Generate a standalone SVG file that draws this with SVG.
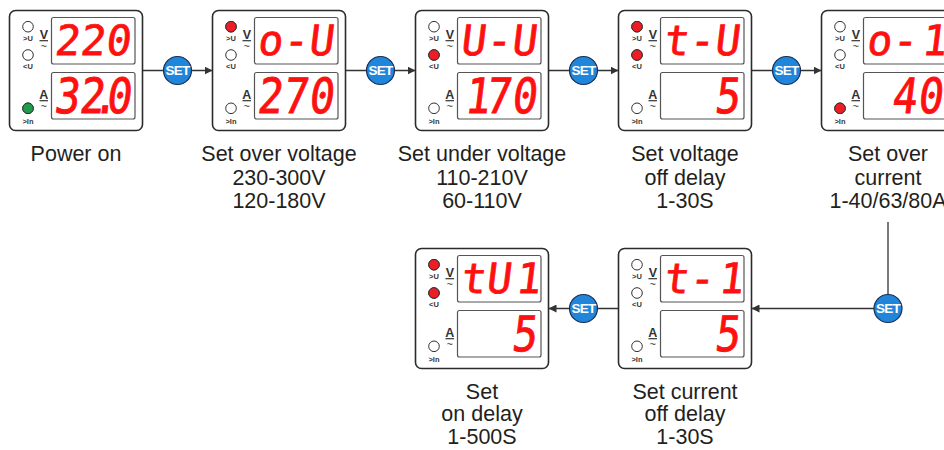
<svg xmlns="http://www.w3.org/2000/svg" xmlns:xlink="http://www.w3.org/1999/xlink" width="944" height="450" viewBox="0 0 944 450">
<style>
.box{fill:#fff;stroke:#2b2b2b;stroke-width:1.6}
.disp{fill:#fff;stroke:#555;stroke-width:1.2}
.led{fill:#fff;stroke:#333;stroke-width:1}
.red{fill:#ee1c24}
.grn{fill:#1f9c4a}
.ll{font-family:"Liberation Sans",Arial,sans-serif;font-size:7.5px;font-weight:bold;fill:#333;text-anchor:middle}
.va{font-family:"Liberation Sans",Arial,sans-serif;font-size:12.5px;font-weight:bold;fill:#333;text-anchor:middle}
.tl{font-family:"Liberation Sans",Arial,sans-serif;font-size:11px;fill:#333;text-anchor:middle}
.seg{font-family:"DejaVu Sans Mono",monospace;font-size:41.5px;fill:#ff1010;stroke:#ff1010;stroke-width:0.8;text-anchor:middle}
.lab{font-family:"Liberation Sans",Arial,sans-serif;font-size:21.5px;fill:#231f20;text-anchor:middle}
.ul{stroke:#333;stroke-width:1.2}
.con{fill:none;stroke:#333;stroke-width:1.3}
.set circle{fill:#1f86dc;stroke:#1a2d55;stroke-width:1.2}
.set text{font-family:"Liberation Sans",Arial,sans-serif;font-size:13.5px;font-weight:bold;fill:#fff;text-anchor:middle;letter-spacing:-0.7px}
</style>
<defs>
<marker id="arr" markerWidth="8" markerHeight="8" refX="8" refY="4" orient="auto" markerUnits="userSpaceOnUse">
<path d="M0,0 L8,4 L0,8 z" fill="#333"/>
</marker>
<g id="frame">
<rect class="box" x="0" y="0" width="133" height="120" rx="6"/>
<rect class="disp" x="42" y="7" width="83.5" height="46.5" rx="2"/>
<rect class="disp" x="42" y="62" width="83.5" height="46.5" rx="2"/>
<circle class="led" cx="18.5" cy="16.2" r="5.3"/>
<circle class="led" cx="18.5" cy="44.5" r="5.3"/>
<circle class="led" cx="18.5" cy="97.8" r="5.3"/>
<line class="ul" x1="30" y1="30.2" x2="38.5" y2="30.2"/>
<line class="ul" x1="30" y1="90.2" x2="38.5" y2="90.2"/>
</g>
</defs>

<g id="connectors">
<path class="con" d="M142.5 70.5 H212.5" marker-end="url(#arr)"/>
<path class="con" d="M345.5 70.5 H415.5" marker-end="url(#arr)"/>
<path class="con" d="M548.5 70.5 H618.5" marker-end="url(#arr)"/>
<path class="con" d="M751.5 70.5 H821.5" marker-end="url(#arr)"/>
<path class="con" d="M888 222 V308.5 H751.5" marker-end="url(#arr)"/>
<path class="con" d="M618.5 308.5 H548.5" marker-end="url(#arr)"/>
</g>

<g id="set1" class="set"><circle cx="177.5" cy="70.5" r="14"/><text x="177.5" y="75.3">SET</text></g>
<g id="set2" class="set"><circle cx="380.5" cy="70.5" r="14"/><text x="380.5" y="75.3">SET</text></g>
<g id="set3" class="set"><circle cx="583.5" cy="70.5" r="14"/><text x="583.5" y="75.3">SET</text></g>
<g id="set4" class="set"><circle cx="786.5" cy="70.5" r="14"/><text x="786.5" y="75.3">SET</text></g>
<g id="set5" class="set"><circle cx="888" cy="308.5" r="14"/><text x="888" y="313.3">SET</text></g>
<g id="set6" class="set"><circle cx="583.5" cy="308.5" r="14"/><text x="583.5" y="313.3">SET</text></g>

<!-- Node 1: Power on -->
<g id="node-power-on">
<g transform="translate(9.5,10.5)">
<use xlink:href="#frame" href="#frame"/>
<circle class="led grn" cx="18.5" cy="97.8" r="5.3"/>
<text class="ll" x="18.5" y="30.5">&gt;U</text><text class="ll" x="18.5" y="58.8">&lt;U</text><text class="ll" x="18.5" y="113.5">&gt;In</text>
<text class="va" x="34.3" y="28.5">V</text><text class="tl" x="34.3" y="39.5">~</text>
<text class="va" x="34.3" y="88.5">A</text><text class="tl" x="34.3" y="99.5">~</text>
<g transform="translate(0,44.5) skewX(-7)"><text class="seg" x="57 82.5 108" y="0">220</text></g>
<g transform="translate(0,102) skewX(-7) scale(1,1.17)"><text class="seg" x="56.5 81.5 95 108.5" y="0">32.0</text></g>
</g>
<text class="lab" x="76" y="161">Power on</text>
</g>

<!-- Node 2 -->
<g id="node-over-voltage">
<g transform="translate(212.5,10.5)">
<use xlink:href="#frame" href="#frame"/>
<circle class="led red" cx="18.5" cy="16.2" r="5.3"/>
<text class="ll" x="18.5" y="30.5">&gt;U</text><text class="ll" x="18.5" y="58.8">&lt;U</text><text class="ll" x="18.5" y="113.5">&gt;In</text>
<text class="va" x="34.3" y="28.5">V</text><text class="tl" x="34.3" y="39.5">~</text>
<text class="va" x="34.3" y="88.5">A</text><text class="tl" x="34.3" y="99.5">~</text>
<g transform="translate(0,44.5) skewX(-7)"><text class="seg" x="57 82.5 108" y="0">o-U</text></g>
<g transform="translate(0,102) skewX(-7) scale(1,1.17)"><text class="seg" x="56.5 82 108" y="0">270</text></g>
</g>
<text class="lab" x="279" y="161">Set over voltage</text>
<text class="lab" x="279" y="184.5">230-300V</text>
<text class="lab" x="279" y="208">120-180V</text>
</g>

<!-- Node 3 -->
<g id="node-under-voltage">
<g transform="translate(415.5,10.5)">
<use xlink:href="#frame" href="#frame"/>
<circle class="led red" cx="18.5" cy="44.5" r="5.3"/>
<text class="ll" x="18.5" y="30.5">&gt;U</text><text class="ll" x="18.5" y="58.8">&lt;U</text><text class="ll" x="18.5" y="113.5">&gt;In</text>
<text class="va" x="34.3" y="28.5">V</text><text class="tl" x="34.3" y="39.5">~</text>
<text class="va" x="34.3" y="88.5">A</text><text class="tl" x="34.3" y="99.5">~</text>
<g transform="translate(0,44.5) skewX(-7)"><text class="seg" x="57 82.5 108" y="0">U-U</text></g>
<g transform="translate(0,102) skewX(-7) scale(1,1.17)"><text class="seg" x="61 82 108" y="0">170</text></g>
</g>
<text class="lab" x="482" y="161">Set under voltage</text>
<text class="lab" x="482" y="184.5">110-210V</text>
<text class="lab" x="482" y="208">60-110V</text>
</g>

<!-- Node 4 -->
<g id="node-voltage-off-delay">
<g transform="translate(618.5,10.5)">
<use xlink:href="#frame" href="#frame"/>
<circle class="led red" cx="18.5" cy="16.2" r="5.3"/>
<circle class="led red" cx="18.5" cy="44.5" r="5.3"/>
<text class="ll" x="18.5" y="30.5">&gt;U</text><text class="ll" x="18.5" y="58.8">&lt;U</text><text class="ll" x="18.5" y="113.5">&gt;In</text>
<text class="va" x="34.3" y="28.5">V</text><text class="tl" x="34.3" y="39.5">~</text>
<text class="va" x="34.3" y="88.5">A</text><text class="tl" x="34.3" y="99.5">~</text>
<g transform="translate(0,44.5) skewX(-7)"><text class="seg" x="57 82.5 108" y="0">t-U</text></g>
<g transform="translate(0,102) skewX(-7) scale(1,1.17)"><text class="seg" x="108" y="0">5</text></g>
</g>
<text class="lab" x="685" y="161">Set voltage</text>
<text class="lab" x="685" y="184.5">off delay</text>
<text class="lab" x="685" y="208">1-30S</text>
</g>

<!-- Node 5 -->
<g id="node-over-current">
<g transform="translate(821.5,10.5)">
<use xlink:href="#frame" href="#frame"/>
<circle class="led red" cx="18.5" cy="97.8" r="5.3"/>
<text class="ll" x="18.5" y="30.5">&gt;U</text><text class="ll" x="18.5" y="58.8">&lt;U</text><text class="ll" x="18.5" y="113.5">&gt;In</text>
<text class="va" x="34.3" y="28.5">V</text><text class="tl" x="34.3" y="39.5">~</text>
<text class="va" x="34.3" y="88.5">A</text><text class="tl" x="34.3" y="99.5">~</text>
<g transform="translate(0,44.5) skewX(-7)"><text class="seg" x="57 82.5 112" y="0">o-1</text></g>
<g transform="translate(0,102) skewX(-7) scale(1,1.17)"><text class="seg" x="82 108" y="0">40</text></g>
</g>
<text class="lab" x="888" y="161">Set over</text>
<text class="lab" x="888" y="184.5">current</text>
<text class="lab" x="888" y="208">1-40/63/80A</text>
</g>

<!-- Node 6 -->
<g id="node-current-off-delay">
<g transform="translate(618.5,248.5)">
<use xlink:href="#frame" href="#frame"/>
<text class="ll" x="18.5" y="30.5">&gt;U</text><text class="ll" x="18.5" y="58.8">&lt;U</text><text class="ll" x="18.5" y="113.5">&gt;In</text>
<text class="va" x="34.3" y="28.5">V</text><text class="tl" x="34.3" y="39.5">~</text>
<text class="va" x="34.3" y="88.5">A</text><text class="tl" x="34.3" y="99.5">~</text>
<g transform="translate(0,44.5) skewX(-7)"><text class="seg" x="57 82.5 112" y="0">t-1</text></g>
<g transform="translate(0,102) skewX(-7) scale(1,1.17)"><text class="seg" x="108" y="0">5</text></g>
</g>
<text class="lab" x="685" y="398.5">Set current</text>
<text class="lab" x="685" y="421">off delay</text>
<text class="lab" x="685" y="443.5">1-30S</text>
</g>

<!-- Node 7 -->
<g id="node-on-delay">
<g transform="translate(415.5,248.5)">
<use xlink:href="#frame" href="#frame"/>
<circle class="led red" cx="18.5" cy="16.2" r="5.3"/>
<circle class="led red" cx="18.5" cy="44.5" r="5.3"/>
<text class="ll" x="18.5" y="30.5">&gt;U</text><text class="ll" x="18.5" y="58.8">&lt;U</text><text class="ll" x="18.5" y="113.5">&gt;In</text>
<text class="va" x="34.3" y="28.5">V</text><text class="tl" x="34.3" y="39.5">~</text>
<text class="va" x="34.3" y="88.5">A</text><text class="tl" x="34.3" y="99.5">~</text>
<g transform="translate(0,44.5) skewX(-7)"><text class="seg" x="57 82.5 112" y="0">tU1</text></g>
<g transform="translate(0,102) skewX(-7) scale(1,1.17)"><text class="seg" x="108" y="0">5</text></g>
</g>
<text class="lab" x="482" y="398.5">Set</text>
<text class="lab" x="482" y="421">on delay</text>
<text class="lab" x="482" y="443.5">1-500S</text>
</g>
</svg>
